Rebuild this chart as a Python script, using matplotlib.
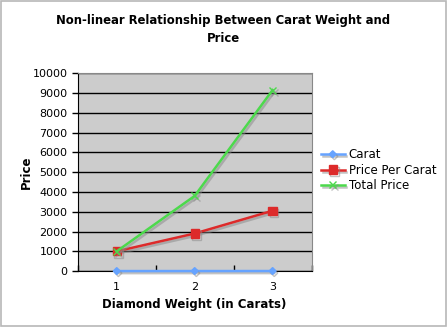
import matplotlib.pyplot as plt
import matplotlib.patheffects as pe
from matplotlib.patches import Rectangle

weights = ['1', '2', '3']
carat = [1, 2, 3]
price_per_carat = [1000, 1900, 3050]
total_price = [1000, 3800, 9150]

fig = plt.figure(figsize=(4.47, 3.27), dpi=100)
fig.patches.append(Rectangle((0.002, 0.003), 0.995, 0.993, transform=fig.transFigure,
                             fill=False, edgecolor='#b8b8b8', linewidth=1.2))

ax = fig.add_axes([0.174, 0.171, 0.523, 0.605])
ax.set_facecolor('#cccccc')

# category positions sit between tick marks, like an Excel category axis
xs = [0.5, 1.5, 2.5]
shadow = [pe.SimpleLineShadow(offset=(1.2, -1.5), shadow_color='#888888', alpha=0.5), pe.Normal()]

ax.plot(xs, carat, color='#66a3ff', lw=1.8, marker='D', ms=3.5, label='Carat',
        path_effects=shadow, zorder=3, clip_on=False)
ax.plot(xs, price_per_carat, color='#dd2a2a', lw=1.8, marker='s', ms=6, label='Price Per Carat',
        path_effects=shadow, zorder=3)
ax.plot(xs, total_price, color='#4cd94c', lw=1.8, marker='x', ms=5, mew=1, label='Total Price',
        path_effects=shadow, zorder=4)

ax.set_xlim(0, 3)
ax.set_ylim(0, 10000)
ax.set_yticks(range(0, 10001, 1000))
ax.set_xticks([0, 1, 2, 3])
ax.set_xticklabels([])
ax.set_xticks(xs, minor=True)
ax.set_xticklabels(weights, minor=True)
ax.tick_params(axis='x', which='minor', length=0, labelsize=8, pad=8)
ax.tick_params(axis='x', which='major', length=4, direction='in', width=1)
ax.tick_params(axis='y', length=4, direction='out', labelsize=8, width=1)
ax.yaxis.grid(True, color='black', lw=1)
ax.set_axisbelow(True)

for side in ['left', 'bottom']:
    ax.spines[side].set_color('black')
ax.spines['top'].set_color('#888888')
ax.spines['right'].set_color('#888888')

ax.set_xlabel('Diamond Weight (in Carats)', fontsize=8.5, fontweight='bold', labelpad=4)
ax.set_ylabel('Price', fontsize=8.5, fontweight='bold', labelpad=4)
ax.yaxis.set_label_coords(-0.19, 0.5)

fig.text(0.5, 0.91, 'Non-linear Relationship Between Carat Weight and\nPrice',
         ha='center', va='center', fontsize=8.4, fontweight='bold', linespacing=1.45)

ax.legend(loc='center left', bbox_to_anchor=(1.04, 0.51), frameon=False, fontsize=8.5,
          handlelength=2.0, handletextpad=0.35, labelspacing=0.2, borderaxespad=0,
          borderpad=0)

fig.savefig('out.png', dpi=100)
